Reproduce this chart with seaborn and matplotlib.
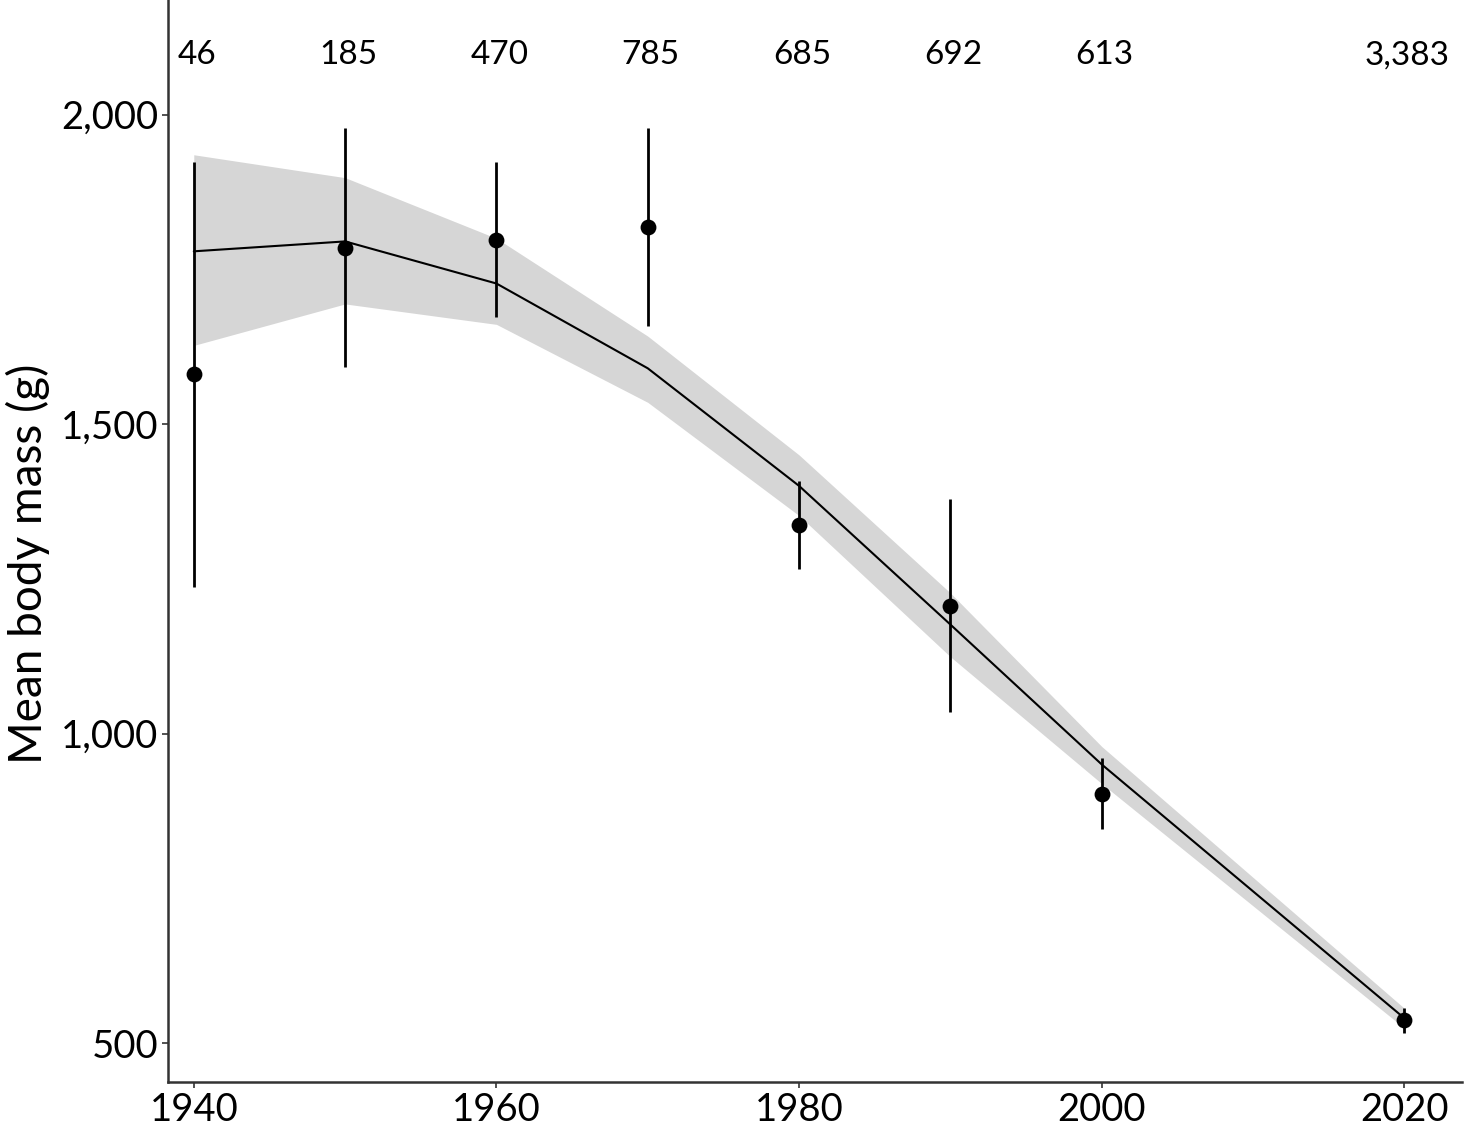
import numpy as np
import pandas as pd
import seaborn as sns
import matplotlib.pyplot as plt
import matplotlib.transforms as mtransforms

# observed decade means with error bars
years = [1940, 1950, 1960, 1970, 1980, 1990, 2000, 2020]
mean_mass = [1581, 1785, 1797, 1819, 1337, 1206, 903, 537]
err_low = [1237, 1592, 1673, 1658, 1265, 1035, 845, 516]
err_high = [1923, 1979, 1923, 1979, 1408, 1379, 960, 556]
counts = ['46', '185', '470', '785', '685', '692', '613', '3,383']

# fitted trend and its confidence band
fit_mass = [1779, 1795, 1727, 1590, 1400, 1176, 950, 540]
fit_low = [1627, 1694, 1661, 1535, 1352, 1124, 919, 524]
fit_high = [1935, 1898, 1800, 1642, 1450, 1227, 979, 556]

obs = pd.DataFrame({'year': years, 'mass': mean_mass, 'lo': err_low, 'hi': err_high})
fit = pd.DataFrame({'year': years, 'mass': fit_mass, 'lo': fit_low, 'hi': fit_high})

sns.set_theme(style="ticks")
plt.rcParams['font.family'] = ['Lato', 'DejaVu Sans']
plt.rcParams['text.color'] = 'black'
plt.rcParams['axes.labelcolor'] = 'black'

fig = plt.figure(figsize=(14.69, 11.29), dpi=100)
ax = fig.add_axes([0.1144, 0.0416, 0.9952 - 0.1144, 0.9584])

ax.fill_between(fit['year'], fit['lo'], fit['hi'], color='#d6d6d6', linewidth=0, zorder=1)
sns.lineplot(data=fit, x='year', y='mass', color='black', linewidth=1.5, ax=ax, zorder=2)
ax.vlines(obs['year'], obs['lo'], obs['hi'], color='black', linewidth=2, zorder=3)
sns.scatterplot(data=obs, x='year', y='mass', color='black', s=130, edgecolor='black',
                linewidth=0, ax=ax, zorder=4)

trans = mtransforms.blended_transform_factory(ax.transData, ax.transAxes)
for yr, c in zip(years, counts):
    ax.text(yr + 0.2, 0.949, c, transform=trans, ha='center', va='center',
            fontsize=24, color='black')

ax.set_xlim(1938.3, 2023.8)
ax.set_ylim(437, 2185)
ax.set_xticks([1940, 1960, 1980, 2000, 2020])
ax.set_yticks([500, 1000, 1500, 2000])
ax.set_yticklabels(['500', '1,000', '1,500', '2,000'])
ax.tick_params(labelsize=27.5, length=4, width=1.2, colors='#333333', labelcolor='black', pad=3)
ax.set_xlabel('')
ax.set_ylabel('Mean body mass (g)', fontsize=33, color='black')
ax.yaxis.set_label_coords(-0.091, 0.479)
for s in ['left', 'bottom']:
    ax.spines[s].set_linewidth(1.8)
    ax.spines[s].set_color('#333333')
sns.despine(ax=ax)

fig.savefig('out.png', dpi=100)
